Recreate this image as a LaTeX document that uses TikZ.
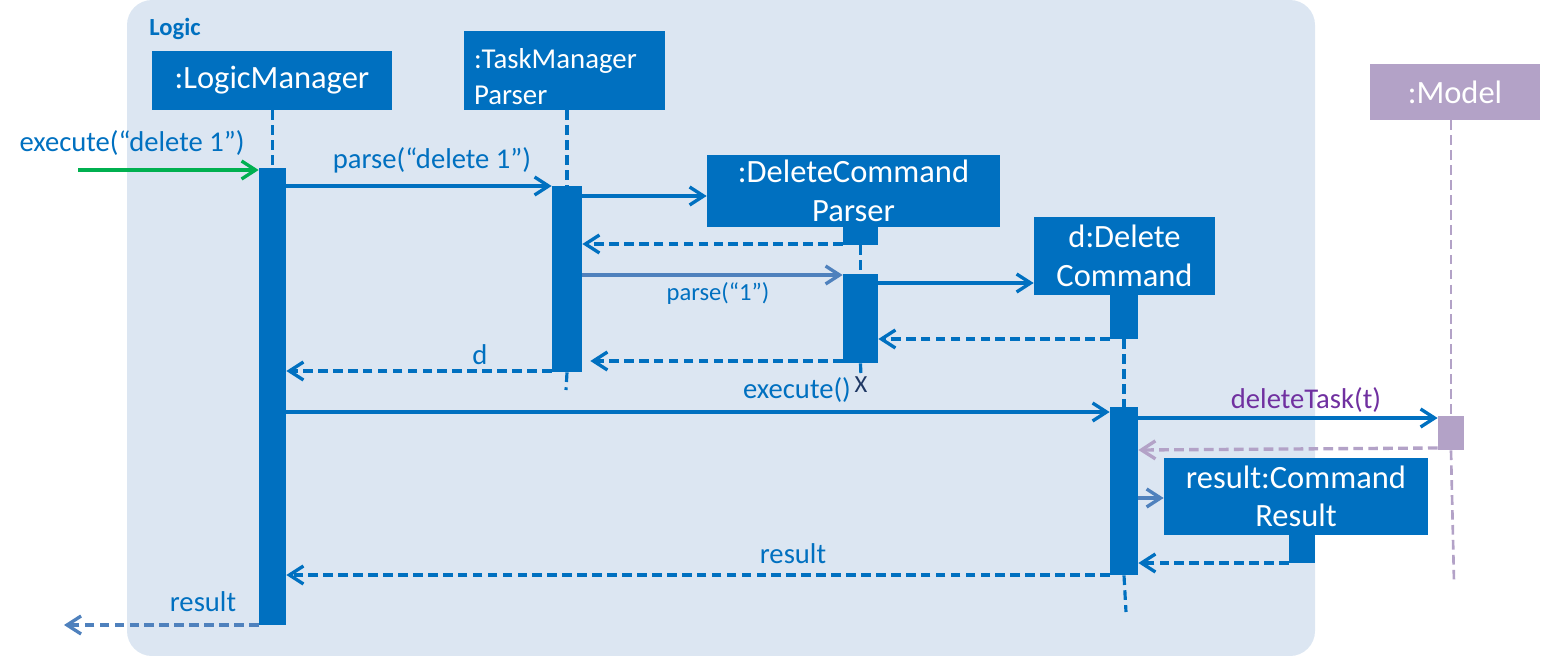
\documentclass[tikz,border=0pt]{standalone}
\usepackage{fontspec}
\setmainfont{Carlito}
\usetikzlibrary{arrows.meta,positioning}
\definecolor{logicblue}{HTML}{0070C0}
\definecolor{logicbg}{HTML}{DCE6F2}
\definecolor{callgreen}{HTML}{00B050}
\definecolor{modelpurple}{HTML}{B3A2C7}
\definecolor{textpurple}{HTML}{7030A0}
\definecolor{softblue}{HTML}{4F81BD}
\definecolor{xnavy}{HTML}{1F3864}

\begin{document}
\begin{tikzpicture}[
  x=0.02cm,y=-0.02cm,
  obj/.style={fill=logicblue, text=white, align=center, inner sep=0pt, font=\fontsize{18.5}{22}\selectfont},
  act/.style={fill=logicblue, inner sep=0pt, minimum width=0.56cm},
  life/.style={logicblue, line width=1.8pt, dash pattern=on 5.5pt off 3pt},
  msg/.style={logicblue, line width=1.9pt, -{Straight Barb[length=2.8mm,width=3.6mm]}},
  ret/.style={msg, dash pattern=on 5.5pt off 3pt},
  lbl/.style={text=logicblue, inner sep=0pt, font=\fontsize{16.3}{19}\selectfont}
]
\useasboundingbox (0,0) rectangle (1560,656);
\fill[logicbg, rounded corners=0.5cm] (127,0) rectangle (1315,656);
\node[font=\bfseries\fontsize{14}{16}\selectfont, text=logicblue, anchor=west, inner sep=0pt] (logicTitle) at (149,29) {Logic};

\node[obj, minimum width=4.8cm, minimum height=1.18cm] (lm) at (272,80.5) {:LogicManager};
\node[obj, text width=3.62cm, inner xsep=0.2cm, align=left, minimum height=1.58cm, font=\fontsize{16.4}{20.4}\selectfont] (tp) at (564.5,70.5) {\rule{0pt}{0.64cm}:TaskManager\\Parser};
\node[obj, minimum width=5.86cm, minimum height=1.44cm] (dp) at (853.5,191) {:DeleteCommand\\Parser};
\node[obj, minimum width=3.62cm, minimum height=1.56cm] (dc) at (1124.5,256) {d:Delete\\Command};
\node[obj, fill=modelpurple, minimum width=3.4cm, minimum height=1.12cm] (md) at (1455,92) {:Model};
\node[obj, minimum width=5.28cm, minimum height=1.54cm] (cr) at (1296,496.5) {result:Command\\Result};

\node[act, minimum width=0.54cm, minimum height=9.14cm] (lmAct) at (272.5,396.5) {};
\node[act, minimum width=0.6cm, minimum height=3.72cm] (tpAct) at (567,279) {};
\node[act, minimum width=0.7cm, minimum height=0.36cm] (dpTop) at (860.5,236) {};
\node[act, minimum width=0.7cm, minimum height=1.78cm] (dpAct) at (860.5,318.5) {};
\node[act, minimum height=0.88cm] (dcTop) at (1124,317) {};
\node[act, minimum height=3.36cm] (dcAct) at (1124,491) {};
\node[act, fill=modelpurple, minimum width=0.52cm, minimum height=0.68cm] (mdAct) at (1451,433) {};
\node[act, minimum width=0.52cm, minimum height=0.56cm] (crTop) at (1302,549) {};
\node[text=xnavy, font=\fontsize{14}{16}\selectfont, inner sep=0pt] (dpX) at (861,385) {X};

\coordinate (tpEnd) at (566,390);
\coordinate (dcEnd) at (1126,612);
\coordinate (mdEnd) at (1454,582);
\coordinate (callIn) at (78,170);
\coordinate (resultOut) at (64,625);

\draw[life] (lm.south -| lmAct.north) -- (lmAct.north);
\draw[life] (tp.south -| tpAct.north) -- (tpAct.north); \draw[life] (tpAct.south) -- (tpEnd);
\draw[life] (dpTop.south) -- (dpAct.north); \draw[life] (dpAct.south) -- (dpX.north);
\draw[life] (dcTop.south) -- (dcAct.north); \draw[life] (dcAct.south) -- (dcEnd);
\draw[life, modelpurple, line width=1.5pt] (md.south -| mdAct.north) -- (mdAct.north); \draw[life, modelpurple, line width=1.5pt] (mdAct.south) -- (mdEnd);

\draw[msg, callgreen] (callIn) -- (lmAct.west |- 0,170);
\draw[msg] (lmAct.east |- 0,186) -- (tpAct.west |- 0,186);
\draw[msg] (tpAct.east |- 0,196) -- (dp.west |- 0,196);
\draw[ret] (dpTop.west |- 0,244) -- (tpAct.east |- 0,244);
\draw[msg, softblue] (tpAct.east |- 0,275) -- (dpAct.west |- 0,275);
\draw[msg] (dpAct.east |- 0,283) -- (dc.west |- 0,283);
\draw[ret] (dcTop.west |- 0,339) -- (dpAct.east |- 0,339);
\draw[ret, shorten >=0.16cm] (dpAct.west |- 0,361) -- (tpAct.east |- 0,361);
\draw[ret] (tpAct.west |- 0,371) -- (lmAct.east |- 0,371);
\draw[msg] (lmAct.east |- 0,412) -- (dcAct.west |- 0,412);
\draw[msg] (dcAct.east |- 0,418) -- (mdAct.west |- 0,418);
\draw[ret, modelpurple] (mdAct.west |- 0,448) -- (dcAct.east |- 0,450);
\draw[msg, softblue] (dcAct.east |- 0,498) -- (cr.west |- 0,498);
\draw[ret] (crTop.west |- 0,563) -- (dcAct.east |- 0,563);
\draw[ret] (dcAct.west |- 0,575) -- (lmAct.east |- 0,575);
\draw[ret, softblue] (lmAct.west |- 0,625) -- (resultOut);

\node[lbl] (execLbl) at (132,143) {execute(“delete 1”)};
\node[lbl] (parseLbl) at (432,160) {parse(“delete 1”)};
\node[lbl, font=\fontsize{14}{16}\selectfont] (parseOneLbl) at (718,293) {parse(“1”)};
\node[lbl] (dLbl) at (480,355) {d};
\node[lbl] (execCmdLbl) at (797,390) {execute()};
\node[lbl, text=textpurple] (delTaskLbl) at (1306,400) {deleteTask(t)};
\node[lbl] (resultLbl) at (793,554) {result};
\node[lbl] (resultOutLbl) at (203,602) {result};
\end{tikzpicture}
\end{document}
